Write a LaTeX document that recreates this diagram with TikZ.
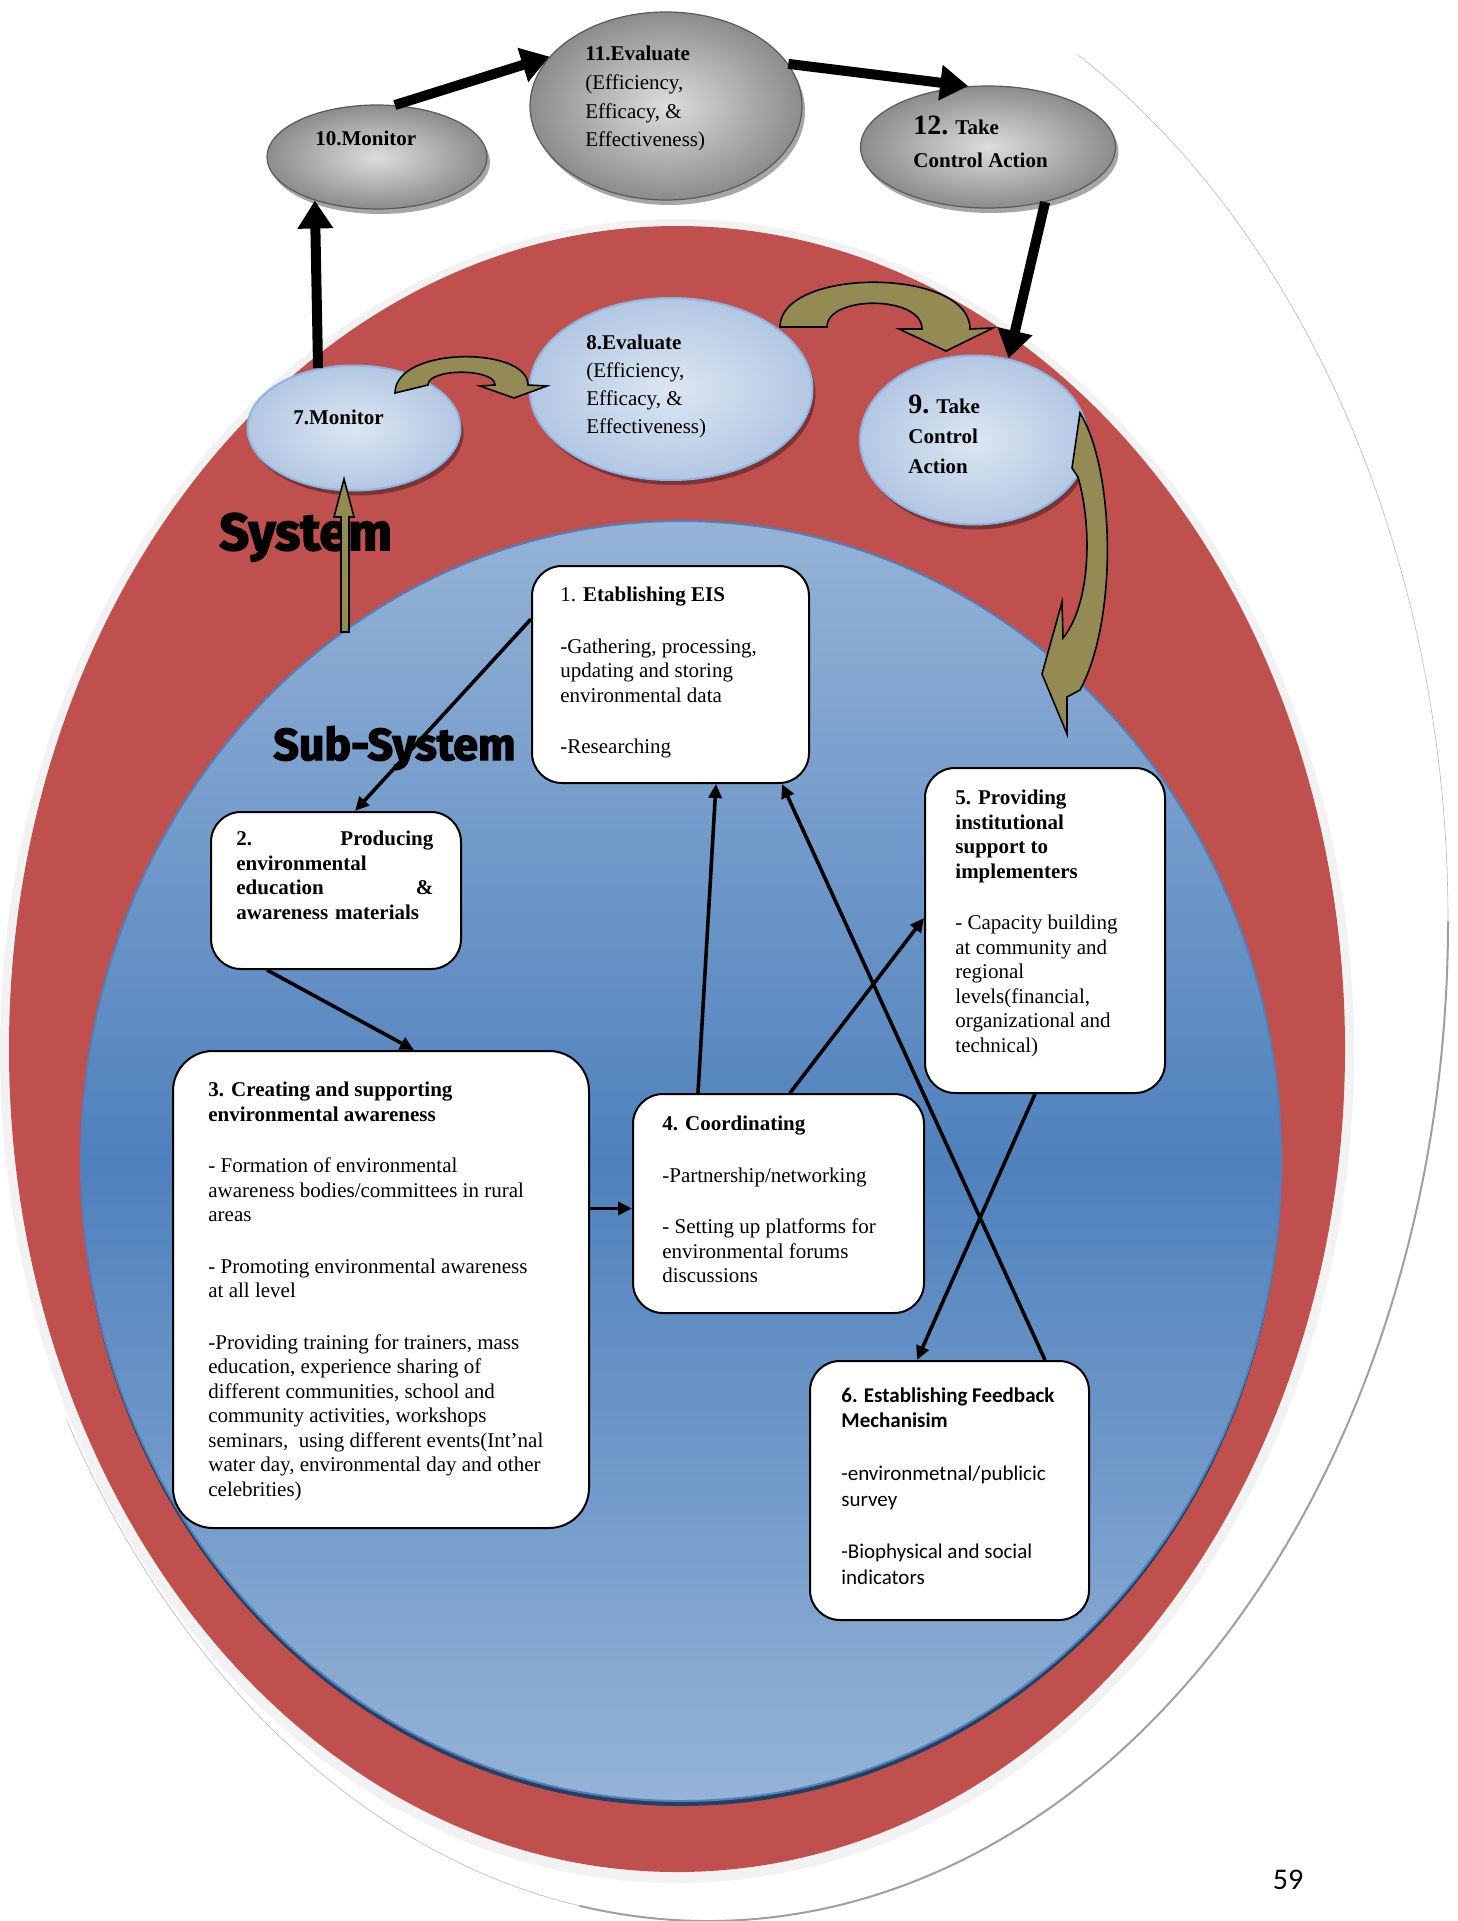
\documentclass[tikz,border=0pt]{standalone}
\usepackage{fontspec}
\setmainfont{Liberation Serif}
\newfontfamily\calibrifont{Carlito}
\newfontfamily\tagfont{Fira Sans}[FakeBold=3]
\usepackage{xcolor}
\usetikzlibrary{arrows.meta,shapes.geometric,shadows}
\definecolor{FigureRed}{HTML}{C0504D}
\definecolor{FigureHalo}{HTML}{F2F2F2}
\definecolor{FigureBlueTop}{HTML}{95B3D7}
\definecolor{FigureBlueMid}{HTML}{4F81BD}
\definecolor{FigureNavy}{HTML}{243F60}
\definecolor{FigureOlive}{HTML}{948A54}
\definecolor{FigureIce}{HTML}{DCE6F2}
\definecolor{FigureFrost}{HTML}{B3C7E3}
\definecolor{FigureSteel}{HTML}{8EB4E3}
\definecolor{FigureSmoke}{HTML}{DDDDDD}
\definecolor{FigureAsh}{HTML}{8C8C8C}
\tikzset{
  greyoval/.style={ellipse, draw=black!65, line width=.6pt, inner color=FigureSmoke, outer color=FigureAsh, inner sep=0pt,
    drop shadow={shadow xshift=1.5pt, shadow yshift=-2.5pt, fill=black, opacity=.35}},
  iceoval/.style={ellipse, draw=FigureSteel, line width=1pt, inner color=FigureIce, outer color=FigureFrost, inner sep=0pt,
    drop shadow={shadow xshift=1.5pt, shadow yshift=-2.5pt, fill=black, opacity=.35}},
  card/.style={draw=black, line width=1pt, fill=white, rounded corners=15pt, inner sep=0pt, anchor=north west},
  cardtext/.style={anchor=north west, align=left, inner sep=0pt, font=\fontsize{10.5}{12.25}\selectfont},
  ovaltext/.style={anchor=north west, align=left, inner sep=0pt, font=\fontsize{10.5}{14.3}\selectfont},
  blockarrow/.style={-{Triangle[length=14pt,width=17pt]}, line width=5pt, draw=black},
  link/.style={-{Triangle[length=7pt,width=6.5pt]}, line width=1.8pt, draw=black},
  olivearrow/.style={fill=FigureOlive, draw=black, line width=.8pt, line join=miter},
}

\begin{document}
\begin{tikzpicture}[x=0.5pt, y=-0.5pt, font=\fontsize{10.5}{12.25}\selectfont]
  \useasboundingbox[fill=white] (0,0) rectangle (1457,1921);
  % outer rim
  \draw[gray!55, line width=.3pt] (708,921) ++(-60:740 and 1000) arc[start angle=-60, end angle=0, x radius=740, y radius=1000];
  \draw[gray!75, line width=1pt] (708,921) ++(0:740 and 1000) arc[start angle=0, end angle=100, x radius=740, y radius=1000];
  \draw[gray!55, line width=.3pt] (708,921) ++(100:740 and 1000) arc[start angle=100, end angle=150, x radius=740, y radius=1000];
  % system and sub-system
  \fill[FigureHalo] (677,1051) ellipse[x radius=677, y radius=832];
  \fill[FigureRed] (677,1049) ellipse[x radius=668, y radius=823];
  \path[draw=FigureBlueMid, line width=1pt, top color=FigureBlueTop, bottom color=FigureBlueTop, middle color=FigureBlueMid,
    drop shadow={shadow xshift=0pt, shadow yshift=-2.5pt, fill=FigureNavy, opacity=1}] (681,1161) ellipse[x radius=600, y radius=640];
  \node[anchor=base west, inner sep=0pt, font=\tagfont\bfseries\fontsize{26}{30}\selectfont] (systag) at (219,550) {System};
  \node[anchor=base west, inner sep=0pt, font=\tagfont\bfseries\fontsize{22.3}{26}\selectfont] (subtag) at (273,760) {Sub-System};

  % ovals
  \node[greyoval, minimum width=110pt, minimum height=52pt] (mon10) at (377,157) {};
  \node[greyoval, minimum width=136pt, minimum height=94pt] (eval11) at (666,106) {};
  \node[greyoval, minimum width=127.5pt, minimum height=61pt] (ctrl12) at (988,147) {};
  \node[iceoval, minimum width=106.5pt, minimum height=62.5pt] (mon7) at (354,428) {};
  \node[iceoval, minimum width=141.5pt, minimum height=91pt] (eval8) at (671,389) {};
  \node[iceoval, minimum width=114pt, minimum height=84.5pt] (ctrl9) at (974,440) {};
  \node[ovaltext] (mon10txt) at (315,131) {\textbf{10.Monitor}};
  \node[ovaltext] (eval11txt) at (585,46) {\textbf{11.Evaluate}\\(Efficiency,\\Efficacy, \&\\Effectiveness)};
  \node[ovaltext, font=\bfseries\fontsize{10.5}{16.5}\selectfont] (ctrl12txt) at (913,116) {{\fontsize{14}{16.5}\selectfont 12.} Take\\Control Action};
  \node[ovaltext] (mon7txt) at (293,410) {\textbf{7.Monitor}};
  \node[ovaltext, font=\fontsize{10.5}{14}\selectfont] (eval8txt) at (586,335) {\textbf{8.Evaluate}\\(Efficiency,\\Efficacy, \&\\Effectiveness)};
  \node[ovaltext, font=\bfseries\fontsize{10.5}{15}\selectfont] (ctrl9txt) at (908,395) {{\fontsize{14}{15}\selectfont 9.} Take\\Control\\Action};

  % boxes
  \node[card, minimum width=138.5pt, minimum height=108.5pt] (eis) at (531,565) {};
  \node[cardtext] (eistxt) at (560,587) {1. \textbf{Etablishing EIS}\\[13.5pt]-Gathering, processing,\\updating and storing\\environmental data\\[13.5pt]-Researching};
  \node[card, minimum width=125pt, minimum height=78.5pt] (edu) at (210,811) {};
  \node[cardtext, text width=98.5pt, font=\bfseries\fontsize{10.5}{12.25}\selectfont] (edutxt) at (236,831) {2.\hfill Producing\\environmental\\education\hfill\&\\awareness materials};
  \node[card, rounded corners=20pt, minimum width=208pt, minimum height=238.5pt] (aware) at (172,1050) {};
  \node[cardtext] (awaretxt) at (208,1082) {\textbf{3. Creating and supporting}\\\textbf{environmental awareness}\\[13.5pt]- Formation of environmental\\awareness bodies/committees in rural\\areas\\[13.5pt]- Promoting environmental awareness\\at all level\\[13.5pt]-Providing training for trainers, mass\\education, experience sharing of\\different communities, school and\\community activities, workshops\\seminars,\ \ using different events(Int’nal\\water day, environmental day and other\\celebrities)};
  \node[card, minimum width=145.5pt, minimum height=109.5pt] (coord) at (632,1093) {};
  \node[cardtext] (coordtxt) at (662,1116) {\textbf{4. Coordinating}\\[13.5pt]-Partnership/networking\\[13.5pt]- Setting up platforms for\\environmental forums\\discussions};
  \node[card, minimum width=120pt, minimum height=162.5pt] (support) at (924,767) {};
  \node[cardtext] (supporttxt) at (955,790) {\textbf{5. Providing}\\\textbf{institutional}\\\textbf{support to}\\\textbf{implementers}\\[13.5pt]- Capacity building\\at community and\\regional\\levels(financial,\\organizational and\\technical)};
  \node[card, minimum width=139.5pt, minimum height=129.5pt] (feedback) at (809,1360) {};
  \node[cardtext, font=\calibrifont\fontsize{10.5}{12.85}\selectfont] (feedbacktxt) at (841,1387) {\textbf{6. Establishing Feedback}\\\textbf{Mechanisim}\\[13.5pt]-environmetnal/publicic\\survey\\[13.5pt]-Biophysical and social\\indicators};

  % outer loop
  \draw[blockarrow] (mon7.121) -- (mon10.215);
  \draw[blockarrow] (mon10.71) -- (eval11.157);
  \draw[blockarrow] (eval11.19) -- (ctrl12.108);
  \draw[blockarrow] (ctrl12.316) -- (ctrl9.67);

  % sub-system links
  \draw[link] ([yshift=-27pt]eis.north west) -- ([xshift=72.5pt]edu.north west);
  \draw[link] ([xshift=28.5pt]edu.south west) -- ([xshift=121pt]aware.north west);
  \draw[link] ([yshift=40.5pt]aware.east) -- ([yshift=40.5pt]aware.east -| coord.west);
  \draw[link] ([xshift=33pt]coord.north west) -- ([xshift=92.5pt]eis.south west);
  \draw[link] ([xshift=79pt]coord.north west) -- ([yshift=6.25pt]support.west);
  \draw[link] ([xshift=55.5pt]support.south west) -- ([xshift=54pt]feedback.north west);
  \draw[link] ([xshift=118pt]feedback.north west) -- ([xshift=125.5pt]eis.south west);

  % inner loop
  \filldraw[olivearrow] (395,393) .. controls (395,346) and (528,346) .. (528,385) -- (547,386) -- (514,398) -- (480,386) -- (495,385)
    .. controls (495,368) and (428,368) .. (428,385) -- cycle;
  \filldraw[olivearrow] (780,327) .. controls (780,267) and (970,267) .. (970,329) -- (993,328) -- (946,351) -- (899,329) -- (922,329)
    .. controls (922,295) and (827,295) .. (827,327) -- cycle;
  \filldraw[olivearrow] (1080,413) .. controls (1115,470) and (1118,620) .. (1080,690) -- (1067,697) -- (1067,734) -- (1042,674) -- (1062,602)
    -- (1063,638) .. controls (1090,605) and (1093,530) .. (1078,477) -- (1072,468) -- cycle;
  \filldraw[olivearrow] (341,632) -- (341,517) -- (334,517) -- (344,479) -- (354,517) -- (349,517) -- (349,632) -- cycle;

  \node[font=\calibrifont\fontsize{15}{18}\selectfont, inner sep=0pt] (pageno) at (1288,1880) {59};
\end{tikzpicture}
\end{document}
